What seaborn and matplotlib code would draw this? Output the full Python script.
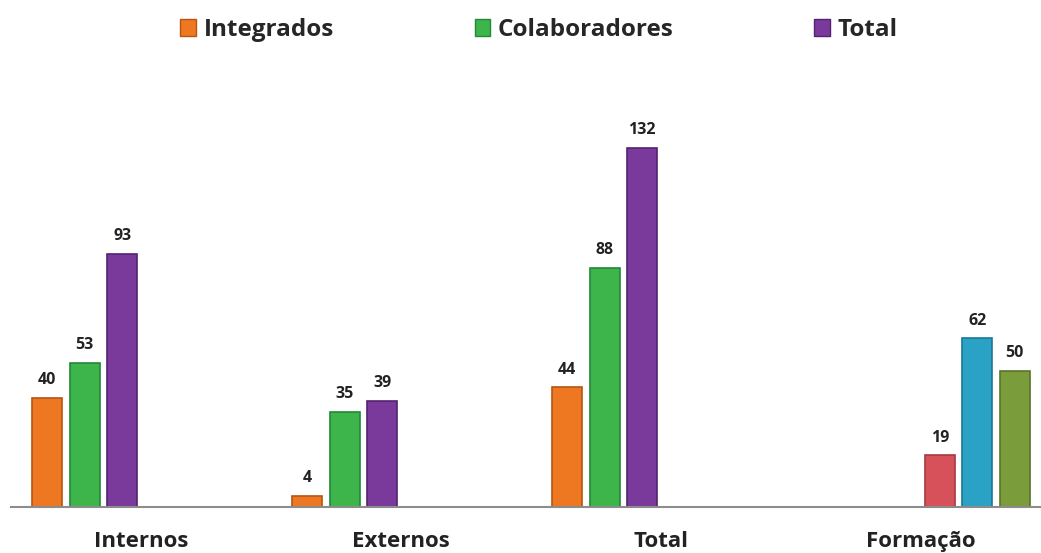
import pandas as pd
import matplotlib.pyplot as plt
import seaborn as sns
from matplotlib.patches import Patch

# Dados
categorias = ['Internos', 'Externos', 'Total', 'Formação']
series = ['Integrados', 'Colaboradores', 'Total', 'Formação 1', 'Formação 2', 'Formação 3']
integrados = [40, 4, 44]
colaboradores = [53, 35, 88]
total = [93, 39, 132]
formacao = [19, 62, 50]

cores = {
    'Integrados': '#EE7722',
    'Colaboradores': '#3DB54A',
    'Total': '#7A3A9C',
    'Formação 1': '#D6515A',
    'Formação 2': '#2AA2C6',
    'Formação 3': '#7A9C3A',
}
bordas = ['#B55510', '#23883A', '#55226F', '#A63840', '#1B7894', '#57742A']

# Montar tabela longa
linhas = []
for cat, a, b, c in zip(categorias[:3], integrados, colaboradores, total):
    linhas += [(cat, 'Integrados', a), (cat, 'Colaboradores', b), (cat, 'Total', c)]
for s, v in zip(series[3:], formacao):
    linhas.append(('Formação', s, v))
df = pd.DataFrame(linhas, columns=['Categoria', 'Serie', 'Valor'])

sns.set_style('white')
plt.rcParams['font.family'] = ['Open Sans', 'DejaVu Sans']

fig = plt.figure(figsize=(10.41, 5.53), dpi=100)
ax = fig.add_axes([11 / 1041, 46 / 553, 1040 / 1041, 381 / 553])

sns.barplot(data=df, x='Categoria', y='Valor', hue='Serie', order=categorias,
            hue_order=series, palette=cores, saturation=1, width=0.865, gap=0.2,
            legend=False, ax=ax, linewidth=1.2)

for cont, borda in zip(ax.containers, bordas):
    for barra in cont:
        barra.set_edgecolor(borda)
    ax.bar_label(cont, padding=7, fontsize=11.5, fontweight='bold', color='#222222')

ax.set_ylim(0, 140)
ax.set_xlim(-0.5, 3.5)
ax.set_xlabel('')
ax.set_ylabel('')
ax.set_yticks([])
ax.tick_params(axis='x', length=0, pad=17, labelsize=16)
for t in ax.get_xticklabels():
    t.set_fontweight('bold')
    t.set_color('#222222')
for lado in ['top', 'right', 'left']:
    ax.spines[lado].set_visible(False)
ax.spines['bottom'].set_color('#8C8C8C')
ax.spines['bottom'].set_linewidth(1.5)

handles = [Patch(facecolor=cores[s], edgecolor=b) for s, b in zip(series[:3], bordas[:3])]
fig.legend(handles, series[:3], loc='center', bbox_to_anchor=(539 / 1041, 1 - 30 / 553),
           ncol=3, frameon=False, handlelength=0.65, handleheight=0.65,
           handletextpad=0.3, columnspacing=5.8,
           prop={'size': 17.5, 'weight': 'bold'})

plt.savefig('out.png', dpi=100)
